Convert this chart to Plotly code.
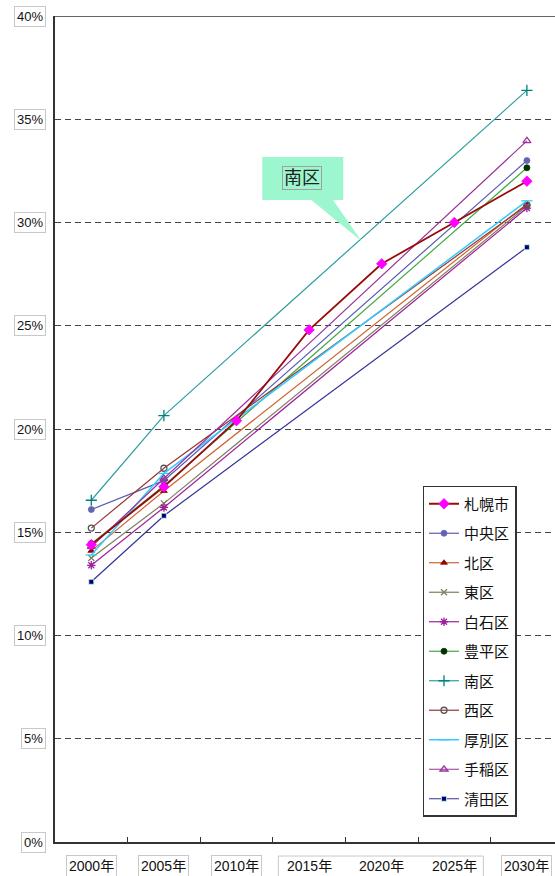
import plotly.graph_objects as go

years = ["2000年", "2005年", "2010年", "2015年", "2020年", "2025年", "2030年"]
y_ticks = [0, 5, 10, 15, 20, 25, 30, 35, 40]
y_tick_labels = ["0%", "5%", "10%", "15%", "20%", "25%", "30%", "35%", "40%"]

sapporo = [14.4, 17.2, 20.4, 24.8, 28.0, 30.0, 32.0]
chuo = [16.1, 17.5, None, None, None, None, 33.0]
kita = [14.1, 17.0, None, None, None, None, 30.9]
higashi = [13.75, 16.4, None, None, None, None, 30.8]
shiroishi = [13.4, 16.2, None, None, None, None, 30.7]
toyohira = [14.45, 17.25, None, None, None, None, 32.65]
minami = [16.55, 20.65, None, None, None, None, 36.4]
nishi = [15.2, 18.1, None, None, None, None, 30.85]
atsubetsu = [13.9, 17.85, None, None, None, None, 31.05]
teine = [14.3, 17.6, None, None, None, None, 33.95]
kiyota = [12.6, 15.8, None, None, None, None, 28.8]

series = [
    ("札幌市", sapporo, "#9b0a0a", "diamond", "#ff00ff", 8, 1.8),
    ("中央区", chuo, "#5a5ab4", "circle", "#6464b4", 6, 1.2),
    ("北区", kita, "#cc6633", "triangle-up", "#990000", 6, 1.2),
    ("東区", higashi, "#7f7f5f", "x-thin-open", "#7f7f5f", 6, 1.2),
    ("白石区", shiroishi, "#a020a0", "asterisk-open", "#a020a0", 7, 1.2),
    ("豊平区", toyohira, "#44aa44", "circle", "#003300", 6, 1.2),
    ("南区", minami, "#2e9e9e", "cross-thin-open", "#008080", 8, 1.2),
    ("西区", nishi, "#993333", "circle-open", "#555555", 6, 1.2),
    ("厚別区", atsubetsu, "#33ccff", "line-ew-open", "#33ccff", 8, 1.5),
    ("手稲区", teine, "#993399", "triangle-up-open", "#993399", 7, 1.2),
    ("清田区", kiyota, "#333399", "square", "#000080", 5, 1.2),
]

font_family = "Liberation Sans, Noto Sans CJK JP, sans-serif"

fig = go.Figure()
order = list(range(1, len(series))) + [0]
for i in order:
    name, vals, lc, sym, mc, ms, lw = series[i]
    mline = dict(width=1.3, color=mc) if "open" in sym else dict(width=0.8, color="#ccffcc" if name == "清田区" else mc)
    fig.add_trace(go.Scatter(
        x=list(range(len(years))), y=vals, name=name, mode="lines+markers",
        connectgaps=True,
        line=dict(color=lc, width=lw),
        marker=dict(symbol=sym, color=mc, size=ms, line=mline),
        legendrank=i + 1, legendgroup=name,
    ))

annotations = []
for v, t in zip(y_ticks, y_tick_labels):
    annotations.append(dict(
        x=0, xref="paper", y=v, yref="y", text=t, showarrow=False,
        xanchor="right", xshift=-9, font=dict(size=13, color="#111", family=font_family),
        bordercolor="#c8c8c8", borderwidth=1, borderpad=2, bgcolor="white",
    ))
for i, t in enumerate(years):
    boxed = i not in (3, 4, 5)
    annotations.append(dict(
        x=i, xref="x", y=0, yref="paper", yshift=-24, text=t, showarrow=False,
        xanchor="center", yanchor="middle", font=dict(size=14, color="#111", family=font_family),
        bordercolor="#c8c8c8" if boxed else "rgba(0,0,0,0)", borderwidth=1, borderpad=2,
    ))
annotations.append(dict(
    x=2.906, xref="x", y=32.15, yref="y", text="南区", showarrow=False,
    font=dict(size=18, color="#222", family=font_family),
    bordercolor="#a0a0a0", borderwidth=1, borderpad=1,
))

shapes = [
    dict(type="line", xref="paper", x0=0, x1=1, yref="y", y0=40, y1=40,
         line=dict(color="#333", width=1.5)),
    dict(type="rect", xref="x", x0=2.576, x1=5.40, yref="paper", y0=-0.017, y1=-0.046,
         line=dict(color="#c8c8c8", width=1), layer="below"),
    dict(type="path", xref="x", yref="y",
         path="M 2.355 33.17 L 3.47 33.17 L 3.47 31.09 L 3.33 31.09 L 3.72 29.1 L 3.03 31.09 L 2.355 31.09 Z",
         fillcolor="#9cf7cf", line=dict(width=0), layer="above"),
]

fig.update_layout(
    width=555, height=876,
    margin=dict(l=55, r=0, t=16, b=34),
    paper_bgcolor="white", plot_bgcolor="white",
    font=dict(family=font_family, size=14, color="#222"),
    xaxis=dict(range=[-0.5, 6.387], tickmode="array", tickvals=[i + 0.5 for i in range(6)],
               showticklabels=False, ticks="inside", ticklen=5, tickcolor="#333",
               showgrid=False, zeroline=False, showline=True, linecolor="#333", linewidth=1.5),
    yaxis=dict(range=[0, 40], tickvals=y_ticks, showticklabels=False,
               showgrid=True, gridcolor="#444", griddash="6px,4px", gridwidth=1.4,
               zeroline=False, showline=True, linecolor="#333", linewidth=1.5),
    legend=dict(x=0.735, y=0.431, xanchor="left", yanchor="top",
                bgcolor="white", bordercolor="#333", borderwidth=1.5,
                font=dict(size=15, family=font_family, color="#111"),
                tracegroupgap=7, itemwidth=30),
    annotations=annotations,
    shapes=shapes,
    showlegend=True,
)

fig.write_html("out.html")
